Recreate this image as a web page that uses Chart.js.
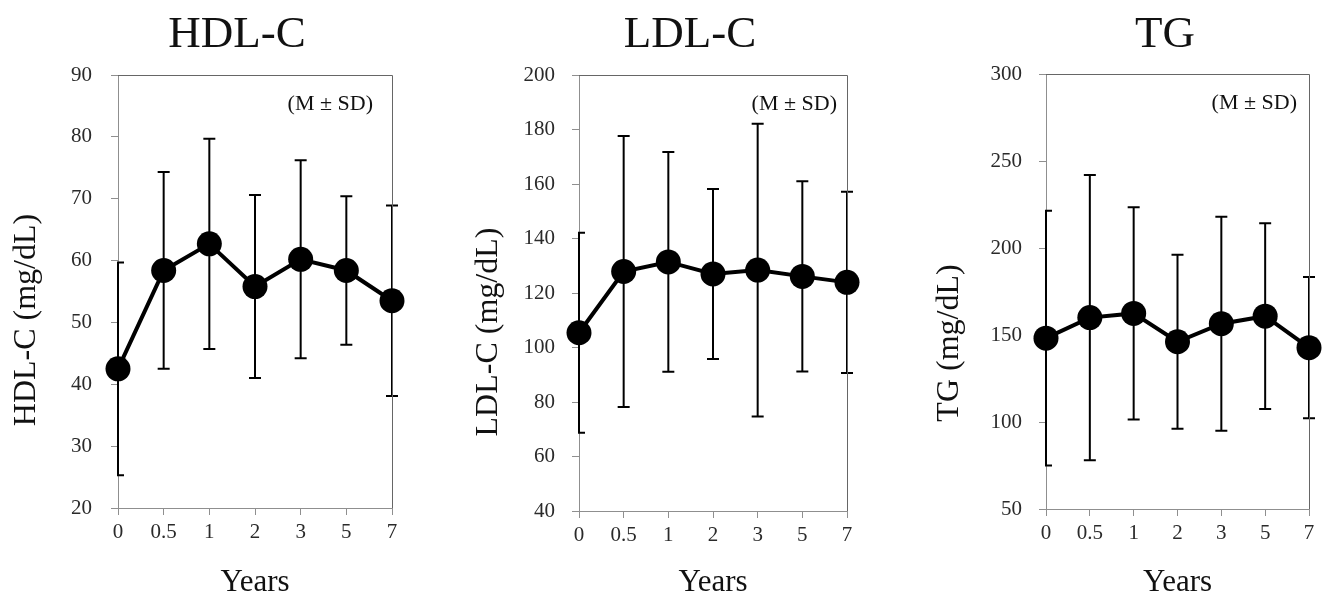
<!DOCTYPE html>
<html lang="en">
<head>
<meta charset="UTF-8">
<title>HDL-C / LDL-C / TG by year</title>
<script src="https://cdn.jsdelivr.net/npm/chart.js"></script>
<style>
  html, body { margin: 0; padding: 0; background: #fff; }
  body { width: 1327px; height: 598px; position: relative; overflow: hidden; }
  canvas { position: absolute; top: 0; }
</style>
</head>
<body>
<canvas id="hdl" width="440" height="598" style="left:0"></canvas>
<canvas id="ldl" width="450" height="598" style="left:440px"></canvas>
<canvas id="tg" width="437" height="598" style="left:890px"></canvas>
<script>
// x categories (years after start)
const years = ['0', '0.5', '1', '2', '3', '5', '7'];

// means and SDs
const hdlMean = [42.5, 58.4, 62.7, 55.8, 60.2, 58.4, 53.5];
const hdlSD   = [17.2, 15.9, 17.0, 14.8, 16.0, 12.0, 15.4];
const ldlMean = [105.4, 127.9, 131.4, 127.0, 128.4, 126.1, 123.9];
const ldlSD   = [36.7, 49.7, 40.3, 31.2, 53.7, 34.9, 33.3];
const tgMean  = [148.2, 160.0, 162.4, 146.1, 156.5, 160.8, 142.7];
const tgSD    = [73.2, 82.0, 61.0, 50.0, 61.5, 53.4, 40.6];

// y axis ranges [min, max, step]
const hdlAxis = [20, 90, 10];
const ldlAxis = [40, 200, 20];
const tgAxis  = [50, 300, 50];

const serif = "'Liberation Serif', 'Times New Roman', serif";
const axisGrey = '#8f8f8f';
const frameGrey = '#666';
const tickColor = '#2a2a2a';

// vertical SD bars with caps, drawn under the line
const errorBars = {
  id: 'errorBars',
  beforeDatasetsDraw(chart) {
    const { ctx, chartArea, scales: { x, y } } = chart;
    const ds = chart.data.datasets[0];
    ctx.save();
    ctx.beginPath();
    ctx.rect(chartArea.left - 1, 0, chart.width, chart.height);
    ctx.clip();
    ctx.strokeStyle = '#000';
    ctx.lineWidth = 2;
    ds.data.forEach((m, i) => {
      const px = x.getPixelForValue(i);
      const top = y.getPixelForValue(m + ds.sd[i]);
      const bot = y.getPixelForValue(m - ds.sd[i]);
      ctx.beginPath();
      ctx.moveTo(px, top); ctx.lineTo(px, bot);
      ctx.moveTo(px - 6, top); ctx.lineTo(px + 6, top);
      ctx.moveTo(px - 6, bot); ctx.lineTo(px + 6, bot);
      ctx.stroke();
    });
    ctx.restore();
  }
};

// top/right frame, panel title, rotated y label and the (M ± SD) note
function panelText(p) {
  return {
    id: 'panelText',
    beforeDatasetsDraw(chart) {
      const { ctx, chartArea: a } = chart;
      ctx.save();
      ctx.strokeStyle = frameGrey;
      ctx.lineWidth = 1;
      ctx.beginPath();
      ctx.moveTo(a.left, a.top + 0.5);
      ctx.lineTo(a.right + 0.5, a.top + 0.5);
      ctx.lineTo(a.right + 0.5, a.bottom);
      ctx.stroke();
      ctx.restore();
    },
    afterDraw(chart) {
      const { ctx, chartArea: a } = chart;
      ctx.save();
      ctx.fillStyle = '#111';
      ctx.textBaseline = 'alphabetic';

      ctx.font = '45px ' + serif;
      ctx.textAlign = 'center';
      ctx.fillText(p.title, p.titleX, 47);

      ctx.font = '22px ' + serif;
      ctx.textAlign = 'right';
      ctx.fillText('(M ± SD)', a.right - p.noteRight, a.top + 35);

      ctx.translate(p.yLabelX, p.yLabelY);
      ctx.rotate(-Math.PI / 2);
      ctx.textAlign = 'center';
      ctx.textBaseline = 'middle';
      ctx.font = '32px ' + serif;
      ctx.fillText(p.yLabel, 0, 0);
      ctx.restore();
    }
  };
}

function makePanel(id, p) {
  new Chart(document.getElementById(id), {
    type: 'line',
    data: {
      labels: years,
      datasets: [{
        data: p.mean,
        sd: p.sd,
        borderColor: '#000',
        borderWidth: 4,
        pointRadius: 12.5,
        pointHoverRadius: 12.5,
        pointBackgroundColor: '#000',
        pointBorderColor: '#000',
        pointBorderWidth: 0,
        tension: 0,
        clip: false
      }]
    },
    options: {
      responsive: false,
      animation: false,
      events: [],
      layout: { padding: { left: 0, right: p.padRight, top: p.top, bottom: 0 } },
      plugins: {
        legend: { display: false },
        tooltip: { enabled: false },
        title: { display: false }
      },
      scales: {
        x: {
          type: 'category',
          offset: false,
          grid: { drawOnChartArea: false, tickLength: 7, color: axisGrey },
          border: { color: axisGrey },
          ticks: { color: tickColor, font: { family: serif, size: 21 }, padding: 5, maxRotation: 0, autoSkip: false },
          title: { display: true, text: 'Years', color: '#111', font: { family: serif, size: 31, lineHeight: 1 }, padding: { top: 0, bottom: 0 } },
          afterFit(s) { s.height = p.xHeight; }
        },
        y: {
          min: p.axis[0],
          max: p.axis[1],
          grid: { drawOnChartArea: false, tickLength: 7, color: axisGrey },
          border: { color: axisGrey },
          ticks: { stepSize: p.axis[2], color: tickColor, font: { family: serif, size: 21 }, padding: p.tickPad },
          afterFit(s) { s.width = p.yWidth; }
        }
      }
    },
    plugins: [errorBars, panelText(p)]
  });
}

makePanel('hdl', {
  title: 'HDL-C', yLabel: 'HDL-C (mg/dL)', mean: hdlMean, sd: hdlSD, axis: hdlAxis,
  top: 75, padRight: 48, yWidth: 118, xHeight: 90, tickPad: 19,
  titleX: 237, yLabelX: 27, yLabelY: 320, noteRight: 19
});
makePanel('ldl', {
  title: 'LDL-C', yLabel: 'LDL-C (mg/dL)', mean: ldlMean, sd: ldlSD, axis: ldlAxis,
  top: 75, padRight: 43, yWidth: 139, xHeight: 87, tickPad: 17,
  titleX: 250, yLabelX: 49, yLabelY: 332, noteRight: 10
});
makePanel('tg', {
  title: 'TG', yLabel: 'TG (mg/dL)', mean: tgMean, sd: tgSD, axis: tgAxis,
  top: 74, padRight: 18, yWidth: 156, xHeight: 89, tickPad: 17,
  titleX: 275, yLabelX: 60, yLabelY: 343, noteRight: 12
});
</script>
</body>
</html>
